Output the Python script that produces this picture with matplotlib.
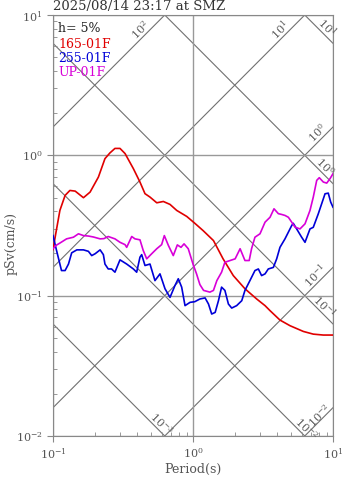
import numpy as np
import matplotlib.pyplot as plt

plt.rcParams['font.family'] = 'DejaVu Serif'
plt.rcParams['mathtext.fontset'] = 'dejavuserif'

title = '2025/08/14 23:17 at SMZ'
damping = 'h= 5%'
names = ['165-01F', '255-01F', 'UP-01F']
colors = ['#e00000', '#0000d8', '#d800d8']

# 165-01F
t_165 = [0.100, 0.105, 0.112, 0.122, 0.132, 0.144, 0.165, 0.184, 0.211, 0.235,
         0.255, 0.277, 0.301, 0.327, 0.375, 0.418, 0.454, 0.493, 0.551, 0.614,
         0.685, 0.765, 0.902, 1.03, 1.18, 1.40, 1.64, 1.94, 2.35, 2.85,
         3.27, 3.55, 4.18, 4.93, 6.14, 7.23, 8.53, 10.0]
sv_165 = [0.213, 0.282, 0.405, 0.518, 0.562, 0.556, 0.499, 0.547, 0.700, 0.947,
          1.04, 1.12, 1.12, 1.03, 0.804, 0.645, 0.533, 0.504, 0.459, 0.469,
          0.447, 0.405, 0.367, 0.328, 0.291, 0.247, 0.183, 0.139, 0.112, 0.0947,
          0.0849, 0.0782, 0.0670, 0.0611, 0.0556, 0.0532, 0.0524, 0.0524]

# 255-01F
t_255 = [0.100, 0.106, 0.115, 0.122, 0.129, 0.136, 0.148, 0.165, 0.179, 0.189,
         0.200, 0.217, 0.229, 0.235, 0.248, 0.262, 0.277, 0.301, 0.336, 0.375,
         0.396, 0.418, 0.430, 0.454, 0.493, 0.535, 0.581, 0.631, 0.685, 0.743,
         0.785, 0.830, 0.877, 0.952, 1.03, 1.12, 1.22, 1.29, 1.36, 1.44,
         1.52, 1.60, 1.69, 1.79, 1.89, 2.05, 2.23, 2.35, 2.55, 2.77,
         2.93, 3.09, 3.27, 3.45, 3.75, 3.96, 4.18, 4.54, 5.07, 5.20,
         5.50, 5.97, 6.31, 6.85, 7.23, 7.85, 8.30, 8.77, 9.25, 9.63, 10.0]
sv_255 = [0.268, 0.210, 0.151, 0.151, 0.168, 0.202, 0.212, 0.212, 0.207, 0.193,
          0.199, 0.212, 0.196, 0.168, 0.155, 0.155, 0.147, 0.180, 0.168, 0.155,
          0.147, 0.188, 0.196, 0.164, 0.168, 0.128, 0.143, 0.112, 0.0972, 0.118,
          0.132, 0.115, 0.0849, 0.0896, 0.0906, 0.0947, 0.0964, 0.0872, 0.074, 0.076,
          0.0921, 0.115, 0.109, 0.0872, 0.0816, 0.0849, 0.0921, 0.109, 0.128, 0.151,
          0.155, 0.139, 0.143, 0.155, 0.159, 0.183, 0.221, 0.254, 0.316, 0.328,
          0.299, 0.261, 0.240, 0.299, 0.307, 0.383, 0.452, 0.532, 0.538, 0.464, 0.427]

# UP-01F
t_up = [0.100, 0.105, 0.112, 0.125, 0.140, 0.152, 0.165, 0.179, 0.194, 0.217,
        0.231, 0.248, 0.277, 0.301, 0.327, 0.336, 0.365, 0.385, 0.418, 0.441,
        0.467, 0.507, 0.551, 0.597, 0.624, 0.667, 0.723, 0.773, 0.821, 0.863,
        0.925, 1.00, 1.06, 1.12, 1.19, 1.32, 1.40, 1.48, 1.60, 1.69,
        1.84, 2.00, 2.17, 2.35, 2.52, 2.62, 2.77, 3.01, 3.27, 3.55,
        3.79, 4.07, 4.30, 4.54, 4.80, 5.07, 5.35, 5.81, 6.31, 6.85,
        7.23, 7.65, 7.98, 8.53, 9.02, 9.52, 10.0]
sv_up = [0.216, 0.228, 0.237, 0.254, 0.261, 0.276, 0.268, 0.266, 0.262, 0.254,
         0.255, 0.264, 0.254, 0.240, 0.231, 0.221, 0.264, 0.254, 0.250, 0.210,
         0.183, 0.199, 0.216, 0.231, 0.268, 0.228, 0.193, 0.230, 0.221, 0.234,
         0.216, 0.168, 0.143, 0.120, 0.109, 0.106, 0.109, 0.128, 0.147, 0.173,
         0.178, 0.183, 0.216, 0.178, 0.178, 0.216, 0.261, 0.276, 0.334, 0.362,
         0.416, 0.384, 0.379, 0.373, 0.362, 0.334, 0.308, 0.299, 0.325, 0.405,
         0.504, 0.663, 0.693, 0.645, 0.634, 0.682, 0.740]

# tripartite diagonals: displacement (cm) and acceleration (cm/s^2)
disp_levels = [1e1, 1e0, 1e-1, 1e-2, 1e-3]
disp_label_t = [8.35, 8.1, 8.1, 6.0, 0.553]
acc_levels = [1e2, 1e1, 1e0, 1e-1, 1e-2]
acc_label_t = [0.454, 4.54, 8.35, 8.1, 8.35]

fig = plt.figure(figsize=(3.47, 4.78), dpi=100)
ax = fig.add_axes([53 / 347, 42 / 478, 280 / 347, 421 / 478])
ax.set_xscale('log')
ax.set_yscale('log')
ax.set_xlim(0.1, 10)
ax.set_ylim(0.01, 10)

tt = np.logspace(-2, 2, 50)
w = 2 * np.pi
for d, tl in zip(disp_levels, disp_label_t):
    ax.plot(tt, w * d / tt, color='#707070', lw=0.8, zorder=1)
    ax.annotate(r'$10^{%d}$' % round(np.log10(d)), xy=(tl, w * d / tl),
                xytext=(3.5, 3.5), textcoords='offset points', rotation=-45,
                ha='center', va='center', fontsize=8, color='#606060',
                annotation_clip=False)
for a, tl in zip(acc_levels, acc_label_t):
    ax.plot(tt, a * tt / w, color='#707070', lw=0.8, zorder=1)
    off = 2.0 if a < 0.05 else 3.5
    ax.annotate(r'$10^{%d}$' % round(np.log10(a)), xy=(tl, a * tl / w),
                xytext=(-off, off), textcoords='offset points', rotation=45,
                ha='center', va='center', fontsize=8, color='#606060',
                annotation_clip=False)

ax.grid(True, which='major', color='#999999', lw=1.0, zorder=1)

ax.plot(t_165, sv_165, color=colors[0], lw=1.2, zorder=3)
ax.plot(t_255, sv_255, color=colors[1], lw=1.2, zorder=3)
ax.plot(t_up, sv_up, color=colors[2], lw=1.2, zorder=3)

ax.text(0.018, 0.967, damping, transform=ax.transAxes, fontsize=9,
        color='#222222', va='center')
for i, (n, c) in enumerate(zip(names, colors)):
    ax.text(0.018, 0.931 - i * 0.034, n, transform=ax.transAxes, fontsize=9,
            color=c, va='center')

for s in ax.spines.values():
    s.set_color('#888888')
ax.tick_params(which='major', direction='out', length=4, color='#888888',
               labelcolor='#555555', labelsize=8, top=False, right=False)
ax.tick_params(which='minor', direction='in', length=3, color='#888888',
               top=False, right=False)

fig.text(53 / 347, 1 - 10 / 478, title, ha='left', va='baseline',
         fontsize=9.5, color='#333333')
fig.text(11 / 347, 0.5 - 4.5 / 478, 'pSv(cm/s)', rotation=90, ha='center',
         va='center', fontsize=9, color='#555555')
fig.text(193 / 347, 9 / 478, 'Period(s)', ha='center', va='center',
         fontsize=9, color='#555555')

fig.savefig('out.png', dpi=100)
